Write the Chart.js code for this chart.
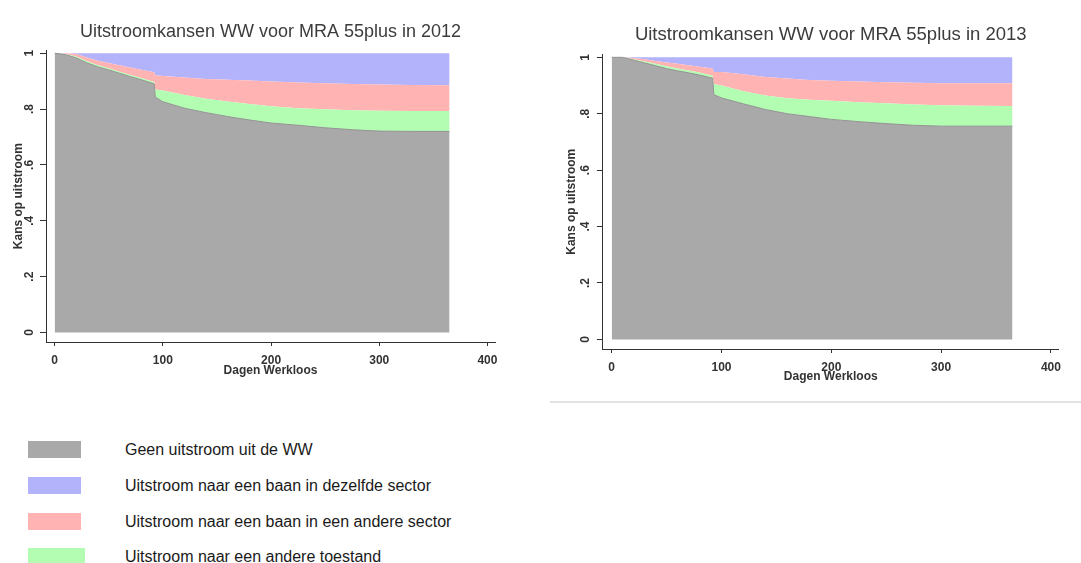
<!DOCTYPE html>
<html>
<head>
<meta charset="utf-8">
<script src="https://cdn.jsdelivr.net/npm/chart.js@4.4.0/dist/chart.umd.min.js"></script>
<style>
body { margin: 0; background: #fff; width: 1081px; height: 563px; position: relative; overflow: hidden;
       font-family: "Liberation Sans", Arial, sans-serif; }
#c2012 { position: absolute; left: 0; top: 0; }
#c2013 { position: absolute; left: 548px; top: 0; }
.sep { position: absolute; left: 550px; top: 401px; width: 531px; height: 2px; background: #e3e3e3; }
.sw { position: absolute; left: 28px; width: 53px; height: 17px; }
.lbl { position: absolute; left: 125px; font-size: 16px; line-height: 18px; color: #1a1a1a; white-space: nowrap; }
</style>
</head>
<body>
<canvas id="c2012" width="540" height="395"></canvas>
<canvas id="c2013" width="533" height="405"></canvas>
<div class="sep"></div>
<div id="legend"></div>
<script>
// dagen werkloos
const days = [0, 10, 20, 30, 40, 50, 60, 70, 80, 92, 93, 100, 120, 140, 160, 180, 200, 225, 250, 275, 300, 330, 365];

// 2012 - kans per toestand
const geen2012         = [1, .995, .983, .965, .951, .94, .928, .916, .905, .89, .843, .826, .803, .787, .773, .761, .75, .742, .733, .726, .721, .72, .72];
const andereToest2012  = [0, .002, .005, .006, .006, .006, .006, .006, .006, .007, .027, .04, .047, .05, .054, .057, .06, .061, .066, .07, .073, .073, .073];
const andereSector2012 = [0, .003, .009, .014, .016, .019, .023, .027, .03, .035, .051, .052, .063, .071, .078, .084, .089, .092, .093, .094, .094, .093, .092];
const zelfdeSector2012 = [0, 0, .003, .015, .027, .035, .043, .051, .059, .068, .079, .082, .087, .092, .095, .098, .101, .105, .108, .11, .112, .114, .115];

// 2013
const geen2013         = [1, 1, .99, .98, .97, .96, .952, .945, .937, .926, .868, .856, .835, .815, .8, .79, .78, .772, .765, .759, .756, .756, .756];
const andereToest2013  = [0, 0, .003, .005, .007, .008, .008, .008, .009, .009, .037, .044, .045, .05, .055, .06, .066, .069, .072, .074, .074, .072, .071];
const andereSector2013 = [0, 0, .005, .008, .01, .014, .017, .019, .021, .025, .043, .048, .06, .065, .07, .07, .071, .073, .075, .077, .078, .08, .081];
const zelfdeSector2013 = [0, 0, .002, .007, .013, .018, .023, .028, .033, .04, .052, .052, .06, .07, .075, .08, .083, .086, .088, .09, .092, .092, .092];

const xTicks = [0, 100, 200, 300, 400];
const yTicks = [0, .2, .4, .6, .8, 1];
const yTickLabels = ['0', '.2', '.4', '.6', '.8', '1'];

const legendLabels = [
    'Geen uitstroom uit de WW',
    'Uitstroom naar een baan in dezelfde sector',
    'Uitstroom naar een baan in een andere sector',
    'Uitstroom naar een andere toestand'
];
const kleuren = { geen: '#a9a9a9', zelfde: '#b3b3fc', andere: '#ffb3b3', toestand: '#b3fdb3' };

const FONT = '"Liberation Sans", Arial, sans-serif';

function pts(vals) {
    return vals.map((v, i) => ({ x: days[i], y: v }));
}

function chartInit(id, year, s, b) {
    const ctx = document.getElementById(id).getContext('2d');
    return new Chart(ctx, {
        type: 'line',
        data: {
            datasets: [
                { label: legendLabels[0], data: pts(s.geen), backgroundColor: kleuren.geen,
                  borderColor: '#939393', borderWidth: 1, fill: 'origin' },
                { label: legendLabels[3], data: pts(s.toestand), backgroundColor: kleuren.toestand,
                  borderWidth: 0, fill: '-1' },
                { label: legendLabels[2], data: pts(s.andere), backgroundColor: kleuren.andere,
                  borderWidth: 0, fill: '-1' },
                { label: legendLabels[1], data: pts(s.zelfde), backgroundColor: kleuren.zelfde,
                  borderWidth: 0, fill: '-1' }
            ]
        },
        options: {
            responsive: false,
            animation: false,
            elements: { point: { radius: 0 }, line: { tension: 0 } },
            layout: { autoPadding: false, padding: { left: 0, top: 0, right: b.padRight, bottom: 0 } },
            plugins: {
                legend: { display: false },
                tooltip: { enabled: false },
                title: {
                    display: true,
                    fullSize: false,
                    text: 'Uitstroomkansen WW voor MRA 55plus in ' + year,
                    color: '#3c3c3c',
                    font: { family: FONT, size: b.titleSize, weight: 'normal' },
                    padding: { top: b.titleTop, bottom: b.titleBottom }
                }
            },
            scales: {
                x: {
                    type: 'linear',
                    min: -8, max: 407,
                    afterBuildTicks: (sc) => { sc.ticks = xTicks.map(v => ({ value: v })); },
                    afterFit: (sc) => { sc.height = b.xHeight; },
                    grid: { drawOnChartArea: false, tickLength: 4, color: '#333' },
                    border: { color: '#333' },
                    ticks: { color: '#333', padding: 7, font: { family: FONT, size: 12, weight: 'bold' },
                             callback: (v) => String(v) },
                    title: { display: true, text: 'Dagen Werkloos', color: '#333',
                             font: { family: FONT, size: 12, weight: 'bold' },
                             padding: { top: 0, bottom: b.xTitlePad } }
                },
                y: {
                    stacked: true,
                    min: -0.034, max: 1.01,
                    afterBuildTicks: (sc) => { sc.ticks = yTicks.map(v => ({ value: v })); },
                    afterFit: (sc) => { sc.width = b.yWidth; },
                    grid: { drawOnChartArea: false, tickLength: 6, color: '#333' },
                    border: { color: '#333' },
                    ticks: { color: '#333', padding: b.yTickPad, minRotation: 90, maxRotation: 90,
                             crossAlign: 'center', font: { family: FONT, size: 12, weight: 'bold' },
                             callback: (v, i) => yTickLabels[i] },
                    title: { display: true, text: 'Kans op uitstroom', color: '#333',
                             font: { family: FONT, size: 12, weight: 'bold' },
                             padding: { top: b.yTitlePad, bottom: 0 } }
                }
            }
        }
    });
}

chartInit('c2012', 2012,
    { geen: geen2012, toestand: andereToest2012, andere: andereSector2012, zelfde: zelfdeSector2012 },
    { padRight: 45, yWidth: 46, xHeight: 53, titleSize: 18, titleTop: 21.2, titleBottom: 7.6,
      xTitlePad: 16.8, yTitlePad: 11.5, yTickPad: 5 });

chartInit('c2013', 2013,
    { geen: geen2013, toestand: andereToest2013, andere: andereSector2013, zelfde: zelfdeSector2013 },
    { padRight: 22.4, yWidth: 54.9, xHeight: 56, titleSize: 18.5, titleTop: 23.9, titleBottom: 8.4,
      xTitlePad: 20.8, yTitlePad: 16.5, yTickPad: 6.2 });

// legenda onder de grafieken
const legendColors = [kleuren.geen, kleuren.zelfde, kleuren.andere, kleuren.toestand];
const legendTops = [441, 477, 513, 548];
const lg = document.getElementById('legend');
legendLabels.forEach((txt, i) => {
    const sw = document.createElement('div');
    sw.className = 'sw';
    sw.style.top = legendTops[i] + 'px';
    sw.style.background = legendColors[i];
    if (i === 3) sw.style.width = '57px';
    lg.appendChild(sw);
    const l = document.createElement('div');
    l.className = 'lbl';
    l.style.top = (legendTops[i] - 0.5) + 'px';
    l.textContent = txt;
    lg.appendChild(l);
});
</script>
</body>
</html>
